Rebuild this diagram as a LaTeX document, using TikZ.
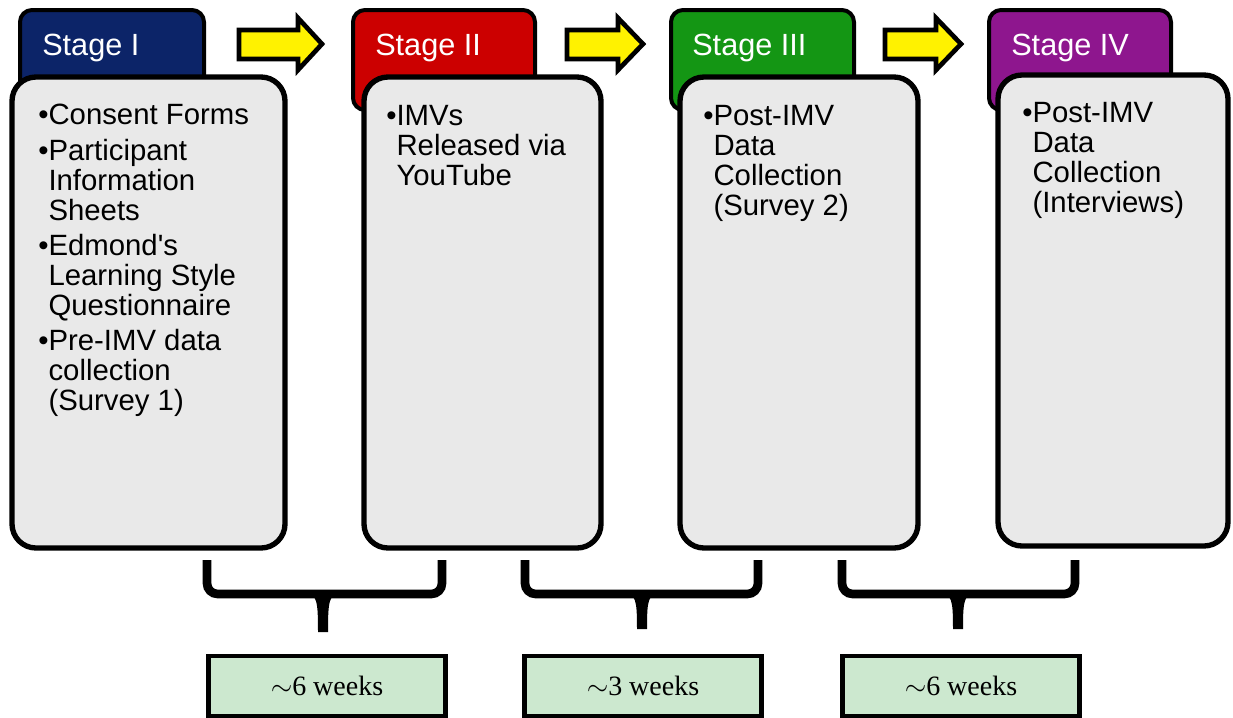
\documentclass[tikz,border=0pt]{standalone}
\usepackage{fontspec}
\setmainfont{Liberation Sans}
\newfontfamily\timesfont{Liberation Serif}
\usetikzlibrary{calc}

\definecolor{stageblue}{RGB}{12,36,104}
\definecolor{stagered}{RGB}{204,0,0}
\definecolor{stagegreen}{RGB}{20,150,20}
\definecolor{stagepurple}{RGB}{142,22,142}
\definecolor{bodygray}{RGB}{233,233,233}
\definecolor{weekgreen}{RGB}{204,232,207}

\tikzset{
  tabbox/.style={draw=black, line width=3pt, rounded corners=9pt},
  bodybox/.style={draw=black, line width=4pt, rounded corners=18pt, fill=bodygray},
  stagelabel/.style={anchor=west, inner sep=0pt, text=white, font=\fontsize{23}{26}\selectfont},
  itemtext/.style={anchor=north west, inner sep=0pt, align=left, font=\fontsize{22}{22.5}\selectfont},
  yarrow/.style={draw=black, line width=3.5pt, fill=yellow, miter limit=4},
  bracepath/.style={draw=black, line width=6.5pt, rounded corners=8pt},
  weekbox/.style={draw=black, line width=3.5pt, fill=weekgreen, minimum width=178pt, minimum height=45pt, font=\timesfont\fontsize{21}{24}\selectfont}
}
\newcommand\gap{\phantom{\textbullet}}

\begin{document}
\begin{tikzpicture}[x=0.75pt, y=-0.75pt]
  \useasboundingbox (0,0) rectangle (1233,718);

  %STAGE TABS
  \draw[tabbox, fill=stageblue] (20,10) rectangle (204,110);
  \draw[tabbox, fill=stagered] (353,10) rectangle (535,110);
  \draw[tabbox, fill=stagegreen] (671,10) rectangle (854,110);
  \draw[tabbox, fill=stagepurple] (989,10) rectangle (1171,110);
  \node[stagelabel] (sI) at (42,48) {Stage I};
  \node[stagelabel] (sII) at (375,48) {Stage II};
  \node[stagelabel] (sIII) at (692,48) {Stage III};
  \node[stagelabel] (sIV) at (1011,48) {Stage IV};

  %YELLOW ARROWS
  \draw[yarrow] (239,30) -- (298,30) -- (298,18) -- (322,44) -- (298,70) -- (298,59) -- (239,59) -- cycle;
  \draw[yarrow] (567,30) -- (618,30) -- (618,18) -- (643,44) -- (618,70) -- (618,59) -- (567,59) -- cycle;
  \draw[yarrow] (885,30) -- (936,30) -- (936,18) -- (961,44) -- (936,70) -- (936,59) -- (885,59) -- cycle;

  %BODIES
  \draw[bodybox] (12,77) rectangle (285,548);
  \draw[bodybox] (364,77) rectangle (601,548);
  \draw[bodybox] (680,77) rectangle (918,548);
  \draw[bodybox] (998,75) rectangle (1228,546);

  \node[itemtext] (tI) at (38,104) {\textbullet Consent Forms\\[4pt]
    \textbullet Participant\\ \gap Information\\ \gap Sheets\\[4pt]
    \textbullet Edmond\textquotesingle s\\ \gap Learning Style\\ \gap Questionnaire\\[4pt]
    \textbullet Pre-IMV data\\ \gap collection\\ \gap (Survey 1)};
  \node[itemtext] (tII) at (386,105) {\textbullet IMVs\\ \gap Released via\\ \gap YouTube};
  \node[itemtext] (tIII) at (703,105) {\textbullet Post-IMV\\ \gap Data\\ \gap Collection\\ \gap (Survey 2)};
  \node[itemtext] (tIV) at (1022,102) {\textbullet Post-IMV\\ \gap Data\\ \gap Collection\\ \gap (Interviews)};

  %BRACES
  \coordinate (b1l) at (207,560);
  \coordinate (b1r) at (442,560);
  \coordinate (b1m) at (323,594);
  \coordinate (b2l) at (525,560);
  \coordinate (b2r) at (758,560);
  \coordinate (b2m) at (642,594);
  \coordinate (b3l) at (842,560);
  \coordinate (b3r) at (1075,560);
  \coordinate (b3m) at (958,594);
  \draw[bracepath] (b1l) |- (b1m) -| (b1r);
  \draw[bracepath] (b2l) |- (b2m) -| (b2r);
  \draw[bracepath] (b3l) |- (b3m) -| (b3r);
  \fill ($(b1m)+(-18,-2)$) .. controls ($(b1m)+(-6,1)$) and ($(b1m)+(-5,6)$) .. ($(b1m)+(-5,38)$) -- ($(b1m)+(5,38)$) .. controls ($(b1m)+(5,6)$) and ($(b1m)+(6,1)$) .. ($(b1m)+(18,-2)$) -- cycle;
  \fill ($(b2m)+(-18,-2)$) .. controls ($(b2m)+(-6,1)$) and ($(b2m)+(-5,6)$) .. ($(b2m)+(-5,35)$) -- ($(b2m)+(5,35)$) .. controls ($(b2m)+(5,6)$) and ($(b2m)+(6,1)$) .. ($(b2m)+(18,-2)$) -- cycle;
  \fill ($(b3m)+(-18,-2)$) .. controls ($(b3m)+(-6,1)$) and ($(b3m)+(-5,6)$) .. ($(b3m)+(-5,35)$) -- ($(b3m)+(5,35)$) .. controls ($(b3m)+(5,6)$) and ($(b3m)+(6,1)$) .. ($(b3m)+(18,-2)$) -- cycle;

  %WEEKS
  \node[weekbox] (w1) at (327,686) {$\sim$6 weeks};
  \node[weekbox] (w2) at (643,686) {$\sim$3 weeks};
  \node[weekbox] (w3) at (961,686) {$\sim$6 weeks};
\end{tikzpicture}
\end{document}
